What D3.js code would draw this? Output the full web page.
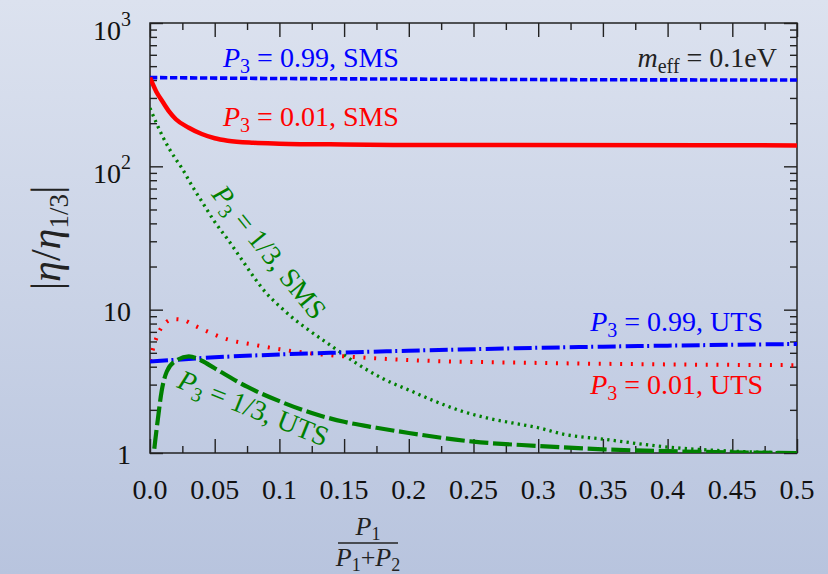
<!DOCTYPE html>
<html>
<head>
<meta charset="utf-8">
<style>
    body { margin: 0; }
    svg { display: block; font-family: 'Liberation Serif', 'DejaVu Serif', serif; }
</style>
</head>
<body>
<svg width="828" height="574"></svg>
<script src="https://d3js.org/d3.v7.min.js"></script>
<script>
    // values
    let xTicks = [0, 0.05, 0.1, 0.15, 0.2, 0.25, 0.3, 0.35, 0.4, 0.45, 0.5]
    let xTickLabels = ["0.0", "0.05", "0.1", "0.15", "0.2", "0.25", "0.3", "0.35", "0.4", "0.45", "0.5"]
    let xMinor = [0.025, 0.075, 0.125, 0.175, 0.225, 0.275, 0.325, 0.375, 0.425, 0.475]
    let yTicks = [1, 10, 100, 1000]
    let yTickLabels = [["1", ""], ["10", ""], ["10", "2"], ["10", "3"]]

    let smsHighX = [0, 0.1, 0.2, 0.3, 0.4, 0.5]
    let smsHighY = [416, 410, 406, 403, 401, 400]

    let smsLowX = [0, 0.005, 0.01, 0.015, 0.02, 0.03, 0.04, 0.05, 0.06, 0.08, 0.1, 0.15, 0.2, 0.5]
    let smsLowY = [416, 330, 280, 240, 213, 186, 168, 157, 151, 146, 144, 142, 141, 140]

    let smsMidX = [0, 0.005, 0.01, 0.015, 0.02, 0.025, 0.03, 0.035, 0.04, 0.05, 0.06, 0.07, 0.08, 0.09, 0.1,
        0.11, 0.12, 0.14, 0.16, 0.18, 0.2, 0.22, 0.24, 0.26, 0.28, 0.3, 0.32, 0.35, 0.4, 0.45, 0.5]
    let smsMidY = [255, 200, 160, 132, 112, 96, 80, 67, 57, 41, 31, 23, 17, 13, 10.6,
        8.8, 7.5, 5.6, 4.2, 3.3, 2.75, 2.3, 1.97, 1.76, 1.62, 1.5, 1.35, 1.25, 1.1, 1.03, 1.0]

    let utsLowX = [0, 0.004, 0.008, 0.012, 0.018, 0.025, 0.035, 0.045, 0.06, 0.08, 0.1, 0.12, 0.14, 0.17, 0.2, 0.3, 0.4, 0.5]
    let utsLowY = [4.4, 6.0, 7.3, 8.1, 8.6, 8.5, 7.7, 7.0, 6.2, 5.7, 5.3, 5.0, 4.8, 4.6, 4.45, 4.25, 4.15, 4.1]

    let utsHighX = [0, 0.05, 0.1, 0.15, 0.2, 0.25, 0.3, 0.35, 0.4, 0.45, 0.5]
    let utsHighY = [4.34, 4.65, 4.87, 5.03, 5.17, 5.3, 5.42, 5.52, 5.61, 5.69, 5.76]

    let utsMidX = [0, 0.003, 0.006, 0.009, 0.013, 0.02, 0.03, 0.04, 0.05, 0.075, 0.1, 0.125, 0.15, 0.175, 0.2,
        0.25, 0.3, 0.35, 0.4, 0.45, 0.5]
    let utsMidY = [0.5, 1.0, 1.7, 2.7, 3.7, 4.4, 4.72, 4.4, 3.9, 2.9, 2.3, 1.9, 1.65, 1.5, 1.38,
        1.2, 1.12, 1.06, 1.03, 1.01, 1.0]

    let plotLeft = 150, plotRight = 797, plotTop = 23, plotBottom = 453

    let svg = d3.select("svg")

    let defs = svg.append("defs")
    let grad = defs.append("linearGradient")
        .attr("id", "bg").attr("x1", 0).attr("y1", 0).attr("x2", 0).attr("y2", 1)
    grad.append("stop").attr("offset", "0%").attr("stop-color", "#dce2ef")
    grad.append("stop").attr("offset", "100%").attr("stop-color", "#b8c4de")
    defs.append("clipPath").attr("id", "plot")
        .append("rect").attr("x", plotLeft).attr("y", plotTop)
        .attr("width", plotRight - plotLeft).attr("height", plotBottom - plotTop)

    svg.append("rect").attr("width", 828).attr("height", 574).attr("fill", "url(#bg)")

    let x = d3.scaleLinear().domain([0, 0.5]).range([plotLeft, plotRight])
    let y = d3.scaleLog().domain([1, 1000]).range([plotBottom, plotTop])

    let yMinor = []
    ;[1, 10, 100].forEach(d => { for (let k = 2; k <= 9; k++) yMinor.push(d * k) })

    // ticks, all pointing inward
    function ticks(axis, pos, values, size) {
        let g = svg.append("g")
            .attr("transform", pos)
            .call(axis.tickValues(values).tickSize(size).tickFormat(""))
        g.select(".domain").remove()
        g.selectAll("line").attr("stroke", "#222").attr("stroke-width", 1.4)
    }
    ticks(d3.axisBottom(x), `translate(0,${plotBottom})`, xTicks, -14)
    ticks(d3.axisBottom(x), `translate(0,${plotBottom})`, xMinor, -7)
    ticks(d3.axisTop(x), `translate(0,${plotTop})`, xTicks, -14)
    ticks(d3.axisTop(x), `translate(0,${plotTop})`, xMinor, -7)
    ticks(d3.axisLeft(y), `translate(${plotLeft},0)`, yTicks, -13)
    ticks(d3.axisLeft(y), `translate(${plotLeft},0)`, yMinor, -7)
    ticks(d3.axisRight(y), `translate(${plotRight},0)`, yTicks, -13)
    ticks(d3.axisRight(y), `translate(${plotRight},0)`, yMinor, -7)

    svg.append("rect")
        .attr("x", plotLeft).attr("y", plotTop)
        .attr("width", plotRight - plotLeft).attr("height", plotBottom - plotTop)
        .attr("fill", "none").attr("stroke", "#222").attr("stroke-width", 1.5)

    // tick labels
    svg.selectAll(".xlab")
        .data(xTicks)
        .join("text")
        .attr("x", d => x(d))
        .attr("y", 499)
        .attr("text-anchor", "middle")
        .attr("font-size", 28)
        .attr("fill", "#111")
        .text((d, i) => xTickLabels[i])

    yTicks.forEach((d, i) => {
        let lab = yTickLabels[i]
        let t = svg.append("text")
            .attr("x", 131)
            .attr("y", y(d) + (lab[1] ? 17 : 11))
            .attr("text-anchor", "end")
            .attr("font-size", 28)
            .attr("fill", "#111")
        t.append("tspan").text(lab[0])
        if (lab[1]) t.append("tspan").attr("dy", -14).attr("font-size", 20).text(lab[1])
    })

    // curves
    let line = d3.line()
        .x(d => x(d[0]))
        .y(d => y(d[1]))
        .curve(d3.curveMonotoneX)

    let series = [
        { xs: smsHighX, ys: smsHighY, color: "#0000ff", width: 3.6, dash: "7.3,2.7" },
        { xs: smsLowX, ys: smsLowY, color: "#ff0000", width: 4.5, dash: null },
        { xs: smsMidX, ys: smsMidY, color: "#008000", width: 3.3, dash: "2.3,4.2" },
        { xs: utsLowX, ys: utsLowY, color: "#ff0000", width: 4, dash: "2,8.7" },
        { xs: utsHighX, ys: utsHighY, color: "#0000ff", width: 4, dash: "18,3.5,2,4.5" },
        { xs: utsMidX, ys: utsMidY, color: "#008000", width: 4.2, dash: "19,4.7" }
    ]

    svg.append("g").attr("clip-path", "url(#plot)")
        .selectAll("path")
        .data(series)
        .join("path")
        .attr("d", s => line(s.xs.map((v, i) => [v, s.ys[i]])))
        .attr("fill", "none")
        .attr("stroke", s => s.color)
        .attr("stroke-width", s => s.width)
        .attr("stroke-dasharray", s => s.dash)

    // labels
    function label(px, py, color, sub, rest, anchor, angle, base) {
        let t = svg.append("text")
            .attr("transform", `translate(${px},${py}) rotate(${angle || 0})`)
            .attr("text-anchor", anchor)
            .attr("font-size", 28)
            .attr("fill", color)
        t.append("tspan").attr("font-style", "italic").text(base || "P")
        t.append("tspan").attr("dy", 6).attr("font-size", 20).text(sub)
        t.append("tspan").attr("dy", -6).text(rest)
    }
    label(223, 67, "#0000ff", "3", " = 0.99, SMS", "start")
    label(223, 126, "#ff0000", "3", " = 0.01, SMS", "start")
    label(777, 67, "#222", "eff", " = 0.1eV", "end", 0, "m")
    label(763, 331, "#0000ff", "3", " = 0.99, UTS", "end")
    label(763, 394, "#ff0000", "3", " = 0.01, UTS", "end")
    label(262, 258, "#008000", "3", " = 1/3, SMS", "middle", 51)
    label(250, 417, "#008000", "3", " = 1/3, UTS", "middle", 22)

    // axis titles
    let yt = svg.append("text")
        .attr("transform", "translate(60,238) rotate(-90)")
        .attr("text-anchor", "middle")
        .attr("font-size", 42)
        .attr("fill", "#222")
    yt.append("tspan").text("|")
    yt.append("tspan").attr("font-style", "italic").text("η")
    yt.append("tspan").text("/")
    yt.append("tspan").attr("font-style", "italic").text("η")
    yt.append("tspan").attr("dy", 8).attr("font-size", 27).text("1/3")
    yt.append("tspan").attr("dy", -8).text("|")

    let num = svg.append("text")
        .attr("x", 368).attr("y", 535)
        .attr("text-anchor", "middle").attr("font-size", 26).attr("fill", "#222")
    num.append("tspan").attr("font-style", "italic").text("P")
    num.append("tspan").attr("dy", 5).attr("font-size", 18).text("1")

    svg.append("line")
        .attr("x1", 338).attr("x2", 398).attr("y1", 543).attr("y2", 543)
        .attr("stroke", "#222").attr("stroke-width", 1.3)

    let den = svg.append("text")
        .attr("x", 368).attr("y", 566)
        .attr("text-anchor", "middle").attr("font-size", 26).attr("fill", "#222")
    den.append("tspan").attr("font-style", "italic").text("P")
    den.append("tspan").attr("dy", 5).attr("font-size", 18).text("1")
    den.append("tspan").attr("dy", -5).text("+")
    den.append("tspan").attr("font-style", "italic").text("P")
    den.append("tspan").attr("dy", 5).attr("font-size", 18).text("2")
</script>
</body>
</html>
